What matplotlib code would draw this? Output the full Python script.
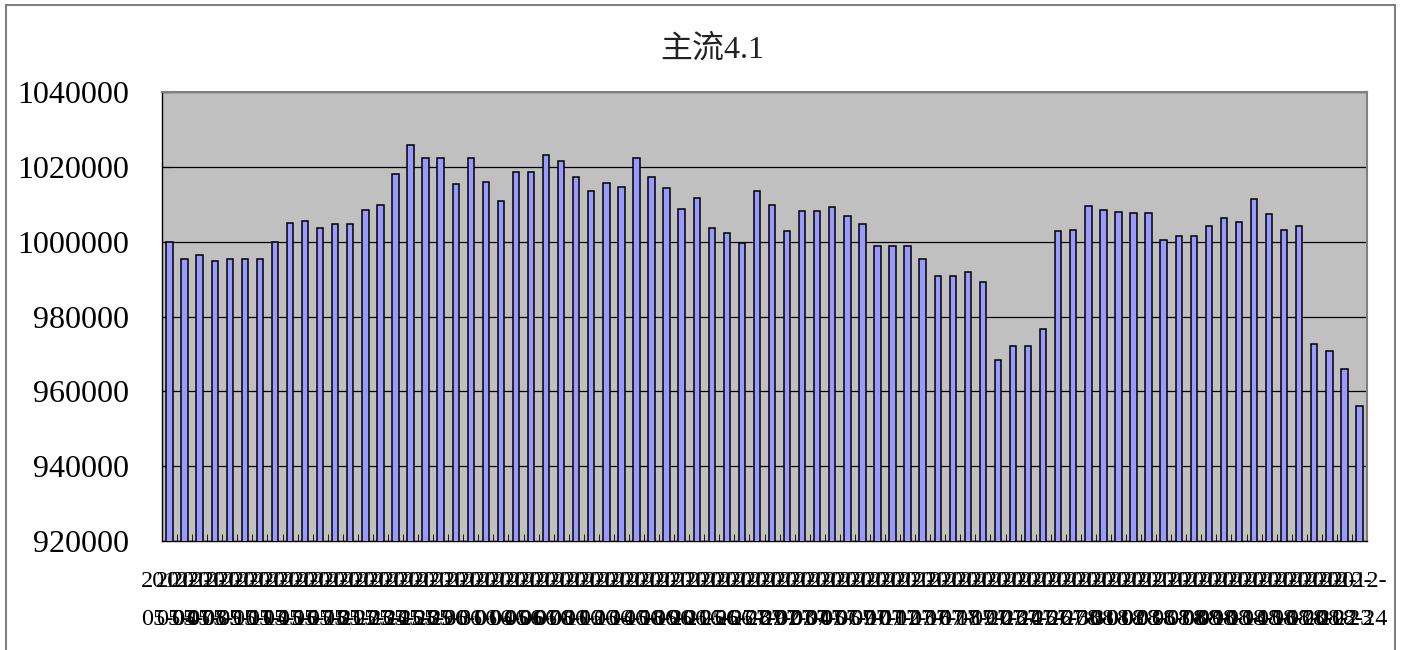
import matplotlib
matplotlib.use('Agg')
import matplotlib.pyplot as plt
from matplotlib.patches import Rectangle
from matplotlib.ticker import FixedLocator
from matplotlib.transforms import blended_transform_factory

# data
title = '主流4.1'
year = '2012'
may_days = [4, 7, 8, 9, 10, 11, 14, 15, 16, 17, 18, 21, 22, 23, 24, 25, 28, 29, 30, 31]
jun_days = [1, 4, 5, 6, 7, 8, 11, 12, 13, 14, 15, 18, 19, 20, 21, 25, 26, 27, 28, 29]
jul_days = [2, 3, 4, 5, 6, 9, 10, 11, 12, 13, 16, 17, 18, 19, 20, 23, 24, 25, 26, 27, 30, 31]
aug_days = [1, 2, 3, 6, 7, 8, 9, 10, 13, 14, 15, 16, 17, 20, 21, 22, 23, 24]

values = [
    999800, 995400, 996500, 994700, 995400, 995400, 995400, 999800, 1005000, 1005400,
    1003600, 1004600, 1004600, 1008500, 1009800, 1018000, 1025800, 1022400, 1022400, 1015300,
    1022400, 1016000, 1010800, 1018700, 1018700, 1023100, 1021600, 1017400, 1013500, 1015600,
    1014600, 1022400, 1017400, 1014300, 1008800, 1011600, 1003600, 1002200, 999600, 1013500,
    1009800, 1002900, 1008100, 1008100, 1009200, 1006800, 1004700, 998800, 998800, 998800,
    995400, 990900, 990900, 992000, 989300, 968300, 972000, 972000, 976600, 1002900,
    1003200, 1009400, 1008400, 1008000, 1007700, 1007700, 1000500, 1001500, 1001500, 1004300,
    1006300, 1005300, 1011500, 1007300, 1003200, 1004300, 972700, 970700, 965900, 956000,
]
yticks = [920000, 940000, 960000, 980000, 1000000, 1020000, 1040000]

labels = []
for month, days in [('05', may_days), ('06', jun_days), ('07', jul_days), ('08', aug_days)]:
    for d in days:
        labels.append(year + '-\n' + month + '-' + '%02d' % d)

W, H = 1407, 650
fig = plt.figure(figsize=(W / 100, H / 100), dpi=100)

# outer chart frame
fig.patches.append(Rectangle((6 / W, -0.05), (1395 - 6) / W, 1.05 - 5 / H,
                             transform=fig.transFigure, fill=False,
                             edgecolor='#808080', linewidth=1.5))

ax = fig.add_axes([162 / W, 1 - 541 / H, (1367 - 162) / W, (541 - 92) / H])
ax.set_facecolor('#c0c0c0')

x = list(range(len(values)))
ax.bar(x, values, width=0.42, color='#9999ff', edgecolor='black', linewidth=1.1, zorder=3)

ax.set_xlim(-0.5, len(values) - 0.5)
ax.set_ylim(yticks[0], yticks[-1])
ax.set_yticks(yticks)
ax.set_yticklabels([str(v) for v in yticks], fontsize=23, family='Liberation Serif')
ax.yaxis.grid(True, color='black', linewidth=0.9, zorder=1)
ax.set_axisbelow(True)

# category labels (two lines, overlapping like the original)
ax.set_xticks(x)
ax.set_xticklabels([])
trans = blended_transform_factory(ax.transData, ax.transAxes)
for i, lab in zip(x, labels):
    ax.text(i, -0.066, lab, transform=trans, ha='center', va='top', fontsize=17.5,
            family='Liberation Serif', linespacing=2.1, multialignment='center')
ax.xaxis.set_minor_locator(FixedLocator([i + 0.5 for i in x]))
ax.tick_params(axis='x', which='major', length=0)
ax.tick_params(axis='x', which='minor', direction='in', length=5, color='black')
ax.tick_params(axis='y', direction='in', length=6, color='black', pad=24)

for s in ['left', 'bottom']:
    ax.spines[s].set_color('black')
    ax.spines[s].set_linewidth(1.0)
for s in ['top', 'right']:
    ax.spines[s].set_color('#808080')
    ax.spines[s].set_linewidth(1.5)

fig.text(712 / W, 1 - 50 / H, title, ha='center', va='center', fontsize=23,
         family=['Liberation Serif', 'Noto Sans CJK SC'], color='#222222')

fig.savefig('out.png', dpi=100)
